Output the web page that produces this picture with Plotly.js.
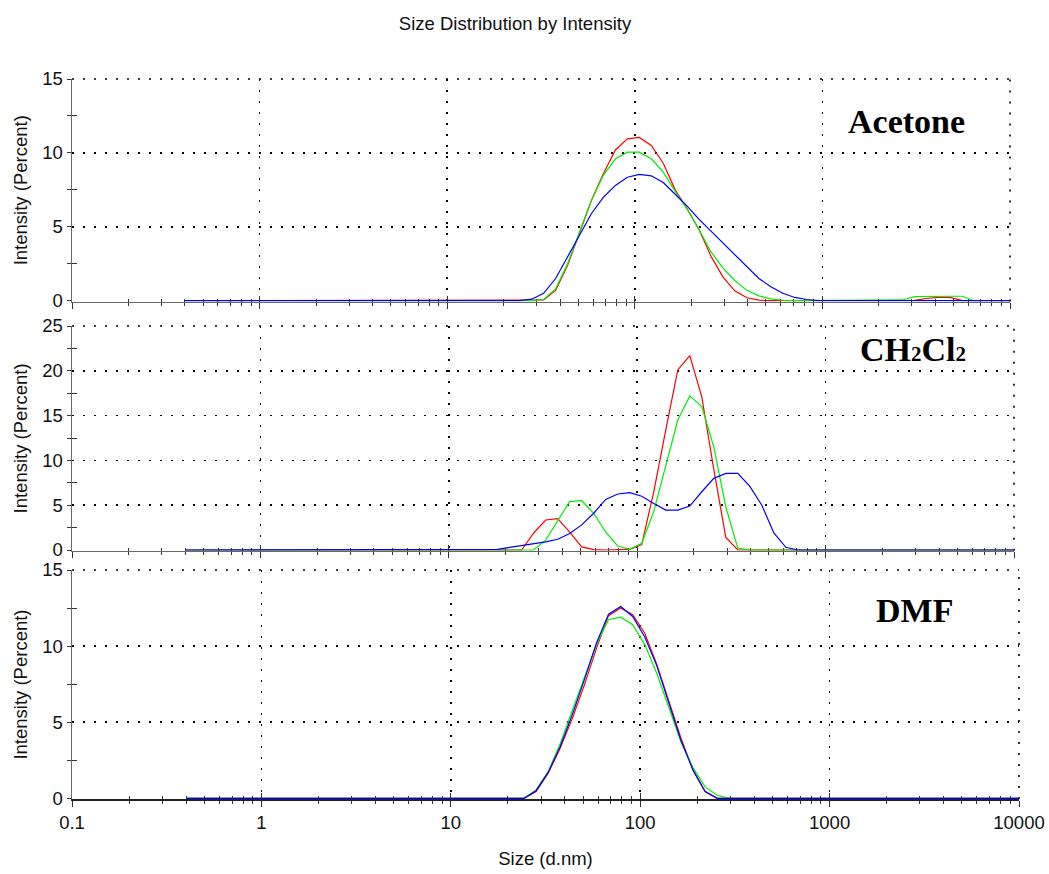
<!DOCTYPE html>
<html><head><meta charset="utf-8">
<script src="https://cdn.plot.ly/plotly-3.0.1.min.js"></script>
<style>html,body{margin:0;padding:0;background:#fff}#chart{width:1049px;height:874px}</style>
</head><body><div id="chart"></div>
<script>
// Size bins (d.nm)
const sizes = [0.4,0.4632,0.5365,0.6213,0.7195,0.8332,0.9649,1.117,1.294,1.499,
  1.736,2.010,2.328,2.696,3.122,3.615,4.187,4.849,5.615,6.503,
  7.531,8.721,10.10,11.70,13.54,15.69,18.17,21.04,24.36,28.21,
  32.67,37.84,43.82,50.75,58.77,68.06,78.82,91.28,105.7,122.4,
  141.8,164.2,190.1,220.2,255.0,295.3,342.0,396.1,458.7,531.2,
  615.1,712.4,825.0,955.4,1106,1281,1484,1718,1990,2305,
  2669,3091,3580,4145,4801,5560,6439,7456,8635,10000];

// Acetone
const acetoneRed = [0,0,0,0,0,0,0,0,0,0, 0,0,0,0,0,0,0,0,0,0, 0,0,0,0,0,0,0,0,0,0,
  0.05,0.7,2.4,4.6,6.8,8.6,10.2,10.95,11.05,10.5,
  9.3,7.5,6.2,4.8,3.0,1.6,0.65,0.2,0.04,0,
  0,0,0,0,0,0,0,0,0,0,
  0,0.02,0.15,0.22,0.22,0,0,0,0,0];
const acetoneGreen = [0,0,0,0,0,0,0,0,0,0, 0,0,0,0,0,0,0,0,0,0, 0,0,0,0,0,0,0,0,0,0,
  0.08,0.8,2.5,4.7,6.8,8.5,9.6,10.05,10.05,9.6,
  8.7,7.4,6.2,4.8,3.3,2.2,1.35,0.7,0.33,0.12,
  0.03,0,0,0,0,0,0,0,0,0,
  0.05,0.28,0.3,0.3,0.3,0.3,0,0,0,0];
const acetoneBlue = [0,0,0,0,0,0,0,0,0,0, 0,0,0,0,0,0,0,0,0,0, 0,0,0,0,0,0,0,0,0,0.1,
  0.5,1.5,3.0,4.5,5.9,7.0,7.8,8.35,8.55,8.45,
  8.0,7.2,6.4,5.5,4.7,3.9,3.1,2.25,1.5,0.95,
  0.5,0.22,0.08,0,0,0,0,0,0,0,
  0,0,0,0,0,0,0,0,0,0];

// CH2Cl2
const dcmRed = [0,0,0,0,0,0,0,0,0,0, 0,0,0,0,0,0,0,0,0,0, 0,0,0,0,0,0,0,0,0,1.9,
  3.35,3.5,2.0,0.35,0.05,0,0,0.07,0.6,6.5,
  13.4,20.1,21.7,17.1,9.0,1.4,0,0,0,0,
  0,0,0,0,0,0,0,0,0,0,
  0,0,0,0,0,0,0,0,0,0];
const dcmGreen = [0,0,0,0,0,0,0,0,0,0, 0,0,0,0,0,0,0,0,0,0, 0,0,0,0,0,0,0,0,0,0,
  1.1,3.2,5.4,5.5,4.1,2.0,0.45,0.07,0.75,4.3,
  9.3,14.5,17.2,16.0,11.5,4.8,0.2,0,0,0,
  0,0,0,0,0,0,0,0,0,0,
  0,0,0,0,0,0,0,0,0,0];
const dcmBlue = [0,0,0,0,0,0,0,0,0,0, 0,0,0,0,0,0,0,0,0,0, 0,0,0,0,0,0,0.07,0.3,0.5,0.65,
  0.9,1.2,1.85,2.8,4.1,5.65,6.25,6.4,6.0,5.2,
  4.45,4.45,4.9,6.5,8.0,8.55,8.55,7.1,5.0,1.9,
  0.3,0,0,0,0,0,0,0,0,0,
  0,0,0,0,0,0,0,0,0,0];

// DMF
const dmfRed = [0,0,0,0,0,0,0,0,0,0, 0,0,0,0,0,0,0,0,0,0, 0,0,0,0,0,0,0,0,0,0.45,
  1.65,3.3,5.25,7.45,9.85,12.0,12.5,12.06,10.85,8.8,
  6.35,3.95,1.85,0.45,0,0,0,0,0,0,
  0,0,0,0,0,0,0,0,0,0,
  0,0,0,0,0,0,0,0,0,0];
const dmfGreen = [0,0,0,0,0,0,0,0,0,0, 0,0,0,0,0,0,0,0,0,0, 0,0,0,0,0,0,0,0,0,0.55,
  1.75,3.6,5.8,8.0,10.1,11.75,11.9,11.4,10.1,8.2,
  5.9,3.7,2.0,0.75,0.2,0,0,0,0,0,
  0,0,0,0,0,0,0,0,0,0,
  0,0,0,0,0,0,0,0,0,0];
const dmfBlue = [0,0,0,0,0,0,0,0,0,0, 0,0,0,0,0,0,0,0,0,0, 0,0,0,0,0,0,0,0,0,0.5,
  1.7,3.4,5.5,7.8,10.2,12.1,12.6,11.95,10.6,8.7,
  6.25,3.8,1.85,0.45,0,0,0,0,0,0,
  0,0,0,0,0,0,0,0,0,0,
  0,0,0,0,0,0,0,0,0,0];

const xTickVals = [0.1,1,10,100,1000,10000];
const xTickText = ['0.1','1','10','100','1000','10000'];
const xMinorVals = [0.2,0.3,0.4,0.5,0.6,0.7,0.8,0.9, 2,3,4,5,6,7,8,9, 20,30,40,50,60,70,80,90,
  200,300,400,500,600,700,800,900, 2000,3000,4000,5000,6000,7000,8000,9000];
const yMaxes = [15,25,15];
const yMajorVals = [[0,5,10,15],[0,5,10,15,20,25],[0,5,10,15]];
const yMinorVals = [[2.5,7.5,12.5],[2.5,7.5,12.5,17.5,22.5],[2.5,7.5,12.5]];
const panelLabels = ['Acetone',
  'CH<span style="font-size:21px">2</span>Cl<span style="font-size:21px">2</span>',
  'DMF'];
const panelSeries = [[acetoneRed,acetoneGreen,acetoneBlue],[dcmRed,dcmGreen,dcmBlue],[dmfRed,dmfGreen,dmfBlue]];
const seriesColors = ['#ff0000','#00ee00','#0000ff'];
const chartTitle = 'Size Distribution by Intensity';
const xTitle = 'Size (d.nm)';
const yTitle = 'Intensity (Percent)';

// ---- layout geometry (pixels) ----
const W = 1049, H = 874;
const boxes = [{l:72,r:1010,t:79,b:300.7},{l:72,r:1014,t:326,b:550},{l:72,r:1019,t:570,b:798.3}];
const labelPos = [[906.5,121.5],[913,350],[914,610]];
const sans = '"Liberation Sans", Arial, sans-serif';
const txtCol = '#111';
const tickFont = {family:sans, size:18.5, color:txtCol};
const gridDash = '2px,9px';

const data = [];
const layout = {
  width:W, height:H, margin:{l:0,r:0,t:0,b:0},
  paper_bgcolor:'#fff', plot_bgcolor:'#fff', showlegend:false,
  title:{text:chartTitle, font:{family:sans,size:18.5,color:txtCol}, x:515/W, xanchor:'center', y:1-24/H, yanchor:'middle'},
  annotations:[], shapes:[]
};

function id(n){return n===1?'':String(n);}

for(let k=1;k<=3;k++){
  const b = boxes[k-1];
  const ymax = yMaxes[k-1];
  const ppu = (b.b-b.t)/ymax;
  const pad = 0.8/ppu;
  const xdom = [b.l/W, b.r/W];
  const ydom = [1-(b.b+0.8)/H, 1-b.t/H];
  const xa = 'x'+id(k), ya = 'y'+id(k);
  const ox = k+3, oy = k+3;
  const lineCol = k===3 ? '#222' : '#6a6a6a';

  const xMain = {
    type:'log', range:[-1,4], autorange:false, domain:xdom, anchor:ya,
    showgrid:true, gridcolor:'#000', gridwidth:1.6, griddash:gridDash,
    tickmode:'array', tickvals:xTickVals, ticktext:xTickText, showticklabels:k===3,
    ticks:'outside', ticklen:6, tickwidth:1, tickcolor:'#333',
    minor:{tickmode:'array', tickvals:xMinorVals, ticks:'outside', ticklen:3, tickwidth:1, tickcolor:'#333', showgrid:false},
    showline:true, linecolor:lineCol, linewidth:1.5, zeroline:false, layer:'below traces',
    tickfont:tickFont, fixedrange:true
  };
  if(k===3) xMain.title = {text:xTitle, font:{family:sans,size:18.5,color:txtCol}};
  layout['xaxis'+id(k)] = xMain;
  layout['xaxis'+ox] = {
    type:'log', range:[-1,4], autorange:false, domain:xdom, anchor:ya, overlaying:xa, side:'bottom',
    showgrid:false, showline:false, zeroline:false,
    tickmode:'array', tickvals:xTickVals, showticklabels:false,
    ticks:'inside', ticklen:6, tickwidth:1, tickcolor:'#333',
    minor:{tickmode:'array', tickvals:xMinorVals, ticks:'inside', ticklen:3, tickwidth:1, tickcolor:'#333', showgrid:false},
    layer:'below traces', fixedrange:true
  };
  layout['yaxis'+id(k)] = {
    range:[-pad, ymax], autorange:false, domain:ydom, anchor:xa,
    tickmode:'array', tickvals:yMajorVals[k-1],
    ticks:'outside', ticklen:4, tickwidth:1, tickcolor:'#333',
    minor:{tickmode:'array', tickvals:yMinorVals[k-1], ticks:'outside', ticklen:4, tickwidth:1, tickcolor:'#333', showgrid:false},
    showgrid:true, gridcolor:'#000', gridwidth:1.6, griddash:gridDash,
    showline:true, linecolor:'#6a6a6a', linewidth:1.5, zeroline:false, layer:'below traces',
    tickfont:tickFont, fixedrange:true,
    title:{text:yTitle, font:{family:sans,size:18.5,color:txtCol}, standoff:9}
  };
  layout['yaxis'+oy] = {
    range:[-pad, ymax], autorange:false, domain:ydom, anchor:xa, overlaying:ya, side:'left',
    tickmode:'array', tickvals:yMinorVals[k-1], showticklabels:false,
    ticks:'inside', ticklen:5, tickwidth:1, tickcolor:'#333',
    showgrid:false, showline:false, zeroline:false, layer:'below traces', fixedrange:true
  };

  // dotted border at the top and right edge (grid at range ends)
  layout.shapes.push({type:'line', xref:xa+' domain', yref:ya+' domain', x0:0, x1:1, y0:1, y1:1,
    line:{color:'#000', width:1.6, dash:gridDash}, layer:'below'});
  layout.shapes.push({type:'line', xref:xa+' domain', yref:ya+' domain', x0:1, x1:1, y0:0, y1:1,
    line:{color:'#000', width:1.6, dash:gridDash}, layer:'below'});

  layout.annotations.push({text:panelLabels[k-1], xref:'paper', yref:'paper',
    x:labelPos[k-1][0]/W, y:1-labelPos[k-1][1]/H, xanchor:'center', yanchor:'middle', showarrow:false,
    font:{family:'"Liberation Serif", "Times New Roman", serif', size:34, color:'#000', weight:'bold'}});

  panelSeries[k-1].forEach((vals,i)=>{
    data.push({x:sizes, y:vals, xaxis:xa, yaxis:ya, type:'scatter', mode:'lines',
      line:{color:seriesColors[i], width:1.2}, hoverinfo:'skip'});
  });
  data.push({x:[], y:[], xaxis:'x'+ox, yaxis:'y'+oy, type:'scatter', mode:'lines', hoverinfo:'skip'});
}

Plotly.newPlot('chart', data, layout, {displayModeBar:false, staticPlot:true});
</script>
</body></html>
